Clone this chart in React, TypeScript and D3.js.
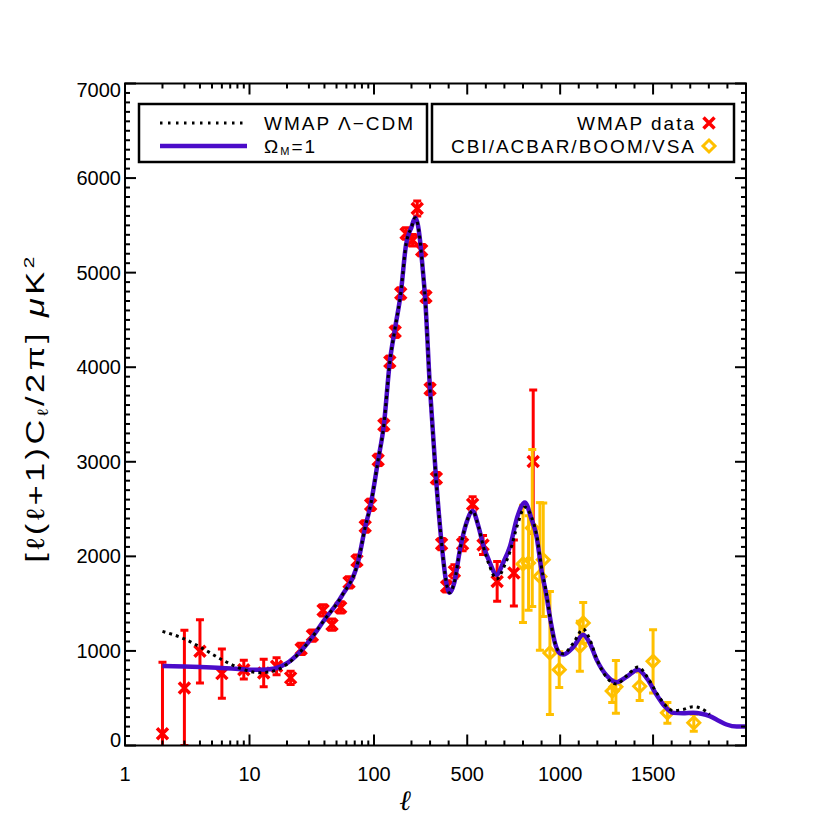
import * as React from 'react';
import * as d3 from 'd3';

// WMAP first-year binned band powers: multipole, value (uK^2), 1-sigma error
const wmapL = [2, 3, 4, 6, 9, 13, 16.5, 21.4, 26, 32, 39, 46, 54, 63, 73, 85, 94, 108, 120, 134, 148, 164, 181, 206, 231, 255, 278, 300, 334, 362, 389, 431, 475, 529, 585, 661, 751, 855];
const wmapV = [125, 609, 996, 760, 802, 767, 837, 715, 1021, 1162, 1429, 1278, 1460, 1725, 1955, 2316, 2545, 3020, 3390, 4058, 4375, 4780, 5414, 5343, 5678, 5237, 4745, 3770, 2827, 2130, 1682, 1840, 2130, 2550, 2120, 1735, 1824, 3002];
const wmapErr = [755, 609, 335, 260, 100, 145, 90, 70, 60, 60, 60, 60, 60, 60, 60, 60, 60, 60, 60, 60, 60, 60, 60, 60, 80, 60, 60, 60, 60, 60, 60, 70, 70, 80, 100, 210, 350, 757];

// CBI / ACBAR / BOOMERANG / VSA
const extL = [800, 830, 850, 891, 909, 945, 995, 1106, 1124, 1280, 1300, 1428, 1500, 1577, 1719];
const extV = [1920, 1930, 2300, 1788, 1964, 979, 802, 1049, 1296, 575, 620, 626, 890, 345, 240];
const extErr = [620, 500, 830, 780, 600, 650, 190, 265, 215, 120, 280, 150, 335, 110, 90];

// model curves
const omegaL = [2, 3, 4, 6, 9, 12, 16, 20, 25, 30, 40, 55, 75, 85, 94, 108, 120, 134, 148, 164, 181, 200, 220, 235, 246, 260, 273, 299, 332, 362, 385, 405, 430, 461, 495, 529, 560, 586, 620, 658, 695, 730, 770, 810, 845, 873, 900, 927, 950, 972, 995, 1016, 1070, 1124, 1160, 1196, 1250, 1303, 1360, 1419, 1470, 1518, 1560, 1608, 1660, 1715, 1760, 1805, 1850, 1895, 1950, 2000];
const omegaV = [840, 835, 830, 820, 805, 800, 815, 870, 980, 1100, 1330, 1580, 1960, 2310, 2545, 3020, 3390, 4058, 4420, 4780, 5300, 5480, 5580, 5500, 5343, 5050, 4745, 3794, 2827, 2140, 1750, 1615, 1720, 2070, 2350, 2480, 2320, 2120, 1940, 1806, 1940, 2105, 2420, 2570, 2400, 2210, 1850, 1577, 1300, 1085, 980, 961, 1040, 1172, 1080, 908, 740, 670, 730, 802, 700, 539, 420, 345, 340, 345, 335, 310, 265, 222, 200, 200];
const lcdmL = [2, 3, 4, 6, 9, 12, 16, 20, 25, 30, 40, 55, 75, 85, 94, 108, 120, 134, 148, 164, 181, 200, 220, 235, 246, 260, 273, 299, 332, 362, 385, 405, 430, 461, 495, 529, 560, 586, 620, 658, 700, 730, 770, 810, 845, 873, 900, 927, 950, 972, 995, 1016, 1070, 1124, 1160, 1196, 1250, 1303, 1360, 1419, 1470, 1518, 1560, 1608, 1660, 1715, 1760, 1805];
const lcdmV = [1207, 1127, 1042, 908, 802, 770, 790, 860, 975, 1100, 1330, 1580, 1960, 2310, 2545, 3020, 3390, 4058, 4420, 4780, 5300, 5480, 5580, 5500, 5343, 5050, 4745, 3794, 2827, 2140, 1750, 1615, 1720, 2070, 2350, 2480, 2320, 2110, 1900, 1760, 1900, 2050, 2330, 2520, 2420, 2230, 1880, 1600, 1300, 1085, 990, 970, 1080, 1230, 1120, 920, 720, 650, 740, 830, 720, 560, 440, 370, 380, 410, 390, 330];

const xTicks = [1, 10, 100, 500, 1000, 1500];
const xTickLabels = ['1', '10', '100', '500', '1000', '1500'];
const yTicks = [0, 1000, 2000, 3000, 4000, 5000, 6000, 7000];
const yTickLabels = ['0', '1000', '2000', '3000', '4000', '5000', '6000', '7000'];

const PLOT = { left: 125, top: 83.5, right: 746, bottom: 745.5 };
const DECADE = 124.5; // px per decade on the log part of the axis
const L_BREAK = 200; // log below, linear above

const RED = '#ff0000';
const GOLD = '#ffc000';
const PURPLE = '#4b0bc9';
const FONT = '"Liberation Sans", Arial, sans-serif';

const xLog = d3.scaleLog().domain([1, L_BREAK]).range([PLOT.left, PLOT.left + DECADE * Math.log10(L_BREAK)]);
const xLin = d3.scaleLinear().domain([L_BREAK, 2000]).range([xLog(L_BREAK), PLOT.right]);
const x = (l: number) => (l <= L_BREAK ? xLog(l) : xLin(l));
const y = d3.scaleLinear().domain([0, 7000]).range([PLOT.bottom, PLOT.top]);

const line = d3.line<[number, number]>()
    .x(d => x(d[0]))
    .y(d => y(d[1]))
    .curve(d3.curveMonotoneX);

const zip = (a: number[], b: number[]) => a.map((v, i) => [v, b[i]] as [number, number]);

const xMinor = [
    ...d3.range(2, 10),
    ...d3.range(20, 100, 10),
    ...d3.range(200, 2001, 100),
].filter(v => !xTicks.includes(v) && v < 2000);
const yMinor = d3.range(0, 7001, 100).filter(v => v % 1000 !== 0);

const X_MARK = 'M-5.5,-5.5L5.5,5.5M-5.5,5.5L5.5,-5.5';
const DIAMOND = 'M0,-6L6,0L0,6L-6,0Z';

function ErrorBar({ cx, lo, hi, color }: { cx: number; lo: number; hi: number; color: string }) {
    const cap = 4;
    return (
        <g stroke={color} strokeWidth={3}>
            <line x1={cx} x2={cx} y1={lo} y2={hi} />
            <line x1={cx - cap} x2={cx + cap} y1={lo} y2={lo} />
            <line x1={cx - cap} x2={cx + cap} y1={hi} y2={hi} />
        </g>
    );
}

export default function App() {
    const majorLen = 11;
    const minorLen = 5;

    return (
        <svg width={830} height={830} style={{ position: 'absolute', left: 0, top: 0, background: '#fff' }} fontFamily={FONT}>
            <defs>
                <clipPath id="plot-clip">
                    <rect x={PLOT.left} y={PLOT.top} width={PLOT.right - PLOT.left} height={PLOT.bottom - PLOT.top} />
                </clipPath>
            </defs>

            {/* data points */}
            <g clipPath="url(#plot-clip)">
                {wmapL.map((l, i) => (
                    <ErrorBar key={'we' + i} cx={x(l)} lo={y(wmapV[i] - wmapErr[i])} hi={y(wmapV[i] + wmapErr[i])} color={RED} />
                ))}
                {wmapL.map((l, i) => (
                    <path key={'wm' + i} d={X_MARK} transform={`translate(${x(l)},${y(wmapV[i])})`} stroke={RED} strokeWidth={3.5} fill="none" />
                ))}
                {extL.map((l, i) => (
                    <ErrorBar key={'ee' + i} cx={x(l)} lo={y(extV[i] - extErr[i])} hi={y(extV[i] + extErr[i])} color={GOLD} />
                ))}
                {extL.map((l, i) => (
                    <path key={'em' + i} d={DIAMOND} transform={`translate(${x(l)},${y(extV[i])})`} stroke={GOLD} strokeWidth={3} fill="none" />
                ))}

                {/* models */}
                <path d={line(zip(omegaL, omegaV)) || ''} fill="none" stroke={PURPLE} strokeWidth={4.5} />
                <path d={line(zip(lcdmL, lcdmV)) || ''} fill="none" stroke="#000" strokeWidth={3} strokeDasharray="3,4" />
            </g>

            {/* frame */}
            <rect x={PLOT.left} y={PLOT.top} width={PLOT.right - PLOT.left} height={PLOT.bottom - PLOT.top} fill="none" stroke="#000" strokeWidth={2} />

            {/* x ticks, bottom and top; y ticks, left and right */}
            <g stroke="#000" strokeWidth={2}>
                {xTicks.map(t => (
                    <g key={'xt' + t}>
                        <line x1={x(t)} x2={x(t)} y1={PLOT.bottom} y2={PLOT.bottom - majorLen} />
                        <line x1={x(t)} x2={x(t)} y1={PLOT.top} y2={PLOT.top + majorLen} />
                    </g>
                ))}
                {xMinor.map(t => (
                    <g key={'xm' + t}>
                        <line x1={x(t)} x2={x(t)} y1={PLOT.bottom} y2={PLOT.bottom - minorLen} />
                        <line x1={x(t)} x2={x(t)} y1={PLOT.top} y2={PLOT.top + minorLen} />
                    </g>
                ))}
                {yTicks.map(t => (
                    <g key={'yt' + t}>
                        <line x1={PLOT.left} x2={PLOT.left + majorLen} y1={y(t)} y2={y(t)} />
                        <line x1={PLOT.right} x2={PLOT.right - majorLen} y1={y(t)} y2={y(t)} />
                    </g>
                ))}
                {yMinor.map(t => (
                    <g key={'ym' + t}>
                        <line x1={PLOT.left} x2={PLOT.left + minorLen} y1={y(t)} y2={y(t)} />
                        <line x1={PLOT.right} x2={PLOT.right - minorLen} y1={y(t)} y2={y(t)} />
                    </g>
                ))}
            </g>

            {/* tick labels */}
            <g fontSize={20} fill="#000">
                {xTicks.map((t, i) => (
                    <text key={'xl' + t} x={x(t)} y={781} textAnchor="middle">{xTickLabels[i]}</text>
                ))}
                {yTicks.map((t, i) => {
                    const nudge = i === 0 ? -6 : i === yTicks.length - 1 ? 6 : 0;
                    return (
                        <text key={'yl' + t} x={PLOT.left - 4} y={y(t) + 7 + nudge} textAnchor="end">{yTickLabels[i]}</text>
                    );
                })}
            </g>

            {/* axis titles */}
            <text x={405} y={810} fontSize={28} textAnchor="middle" fontFamily='"DejaVu Serif", serif' fontStyle="italic">ℓ</text>
            <text transform="translate(44,408) rotate(-90) scale(1.38,1)" fontSize={25} letterSpacing={2.5} textAnchor="middle">
                [ℓ(ℓ+1)C<tspan fontSize={15} dy={4}>ℓ</tspan><tspan dy={-4}>/2π] </tspan><tspan fontStyle="italic">μ</tspan>K<tspan fontSize={15} dy={-10}>2</tspan>
            </text>

            {/* legend */}
            <g fontSize={19} letterSpacing={2}>
                <rect x={139} y={104} width={288} height={58} fill="#fff" stroke="#000" strokeWidth={2.5} />
                <line x1={160} x2={247} y1={123} y2={123} stroke="#000" strokeWidth={3} strokeDasharray="2.5,5.5" />
                <text x={264} y={130}>WMAP Λ−CDM</text>
                <line x1={160} x2={247} y1={146} y2={146} stroke={PURPLE} strokeWidth={4.5} />
                <text x={264} y={153}>Ω<tspan fontSize={11} dy={2}>M</tspan><tspan dy={-2}>=1</tspan></text>

                <rect x={432} y={104} width={302} height={58} fill="#fff" stroke="#000" strokeWidth={2.5} />
                <text x={696} y={130} textAnchor="end">WMAP data</text>
                <path d={X_MARK} transform="translate(709,123)" stroke={RED} strokeWidth={3.5} fill="none" />
                <text x={696} y={153} textAnchor="end">CBI/ACBAR/BOOM/VSA</text>
                <path d={DIAMOND} transform="translate(709,146)" stroke={GOLD} strokeWidth={3} fill="none" />
            </g>
        </svg>
    );
}
